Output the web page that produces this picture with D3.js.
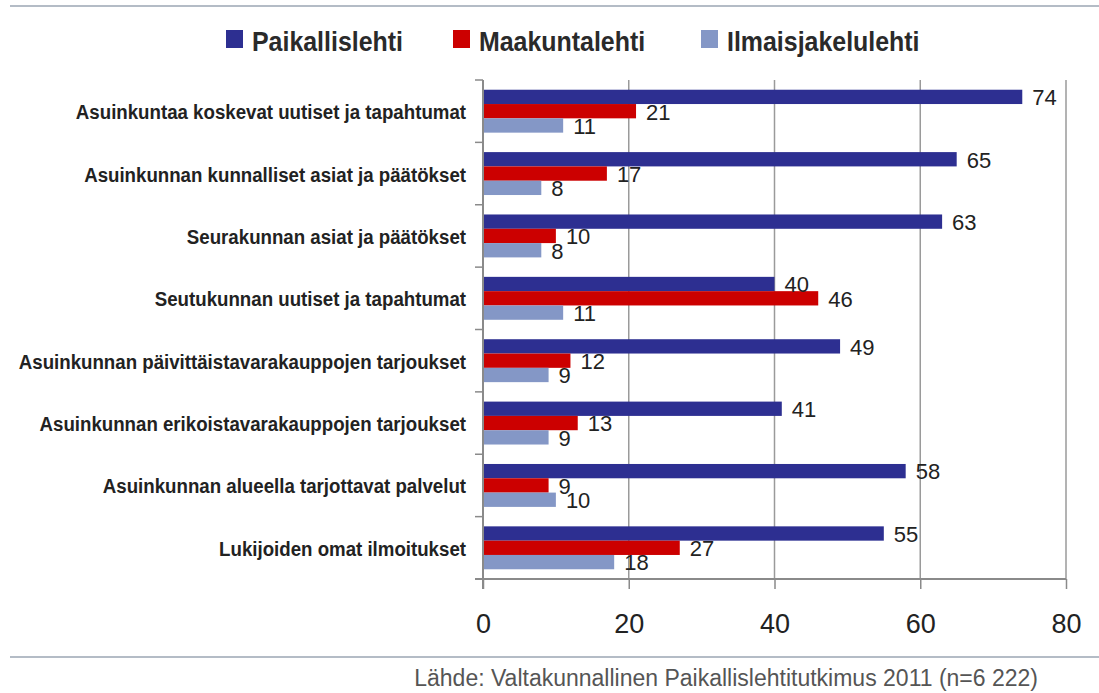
<!DOCTYPE html>
<html>
<head>
<meta charset="utf-8">
<script src="https://cdn.jsdelivr.net/npm/d3@7"></script>
<style>
	body { margin: 0; background: #fff; }
	svg { display: block; font-family: "Liberation Sans", Arial, sans-serif; }
</style>
</head>
<body>
<script>
// data
var categories = [
	"Asuinkuntaa koskevat uutiset ja tapahtumat",
	"Asuinkunnan kunnalliset asiat ja päätökset",
	"Seurakunnan asiat ja päätökset",
	"Seutukunnan uutiset ja tapahtumat",
	"Asuinkunnan päivittäistavarakauppojen tarjoukset",
	"Asuinkunnan erikoistavarakauppojen tarjoukset",
	"Asuinkunnan alueella tarjottavat palvelut",
	"Lukijoiden omat ilmoitukset"
];
var seriesNames = ["Paikallislehti", "Maakuntalehti", "Ilmaisjakelulehti"];
var paikallislehti = [74, 65, 63, 40, 49, 41, 58, 55];
var maakuntalehti = [21, 17, 10, 46, 12, 13, 9, 27];
var ilmaisjakelulehti = [11, 8, 8, 11, 9, 9, 10, 18];
var xTicks = [0, 20, 40, 60, 80];
var sourceText = "Lähde: Valtakunnallinen Paikallislehtitutkimus 2011 (n=6 222)";

var colors = ["#2d2f91", "#cc0000", "#8497c6"];

function draw() {
	var width = 1099, height = 693;
	var svg = d3.select("body").append("svg")
		.attr("width", width).attr("height", height);

	var seriesValues = [paikallislehti, maakuntalehti, ilmaisjakelulehti];
	var rows = categories.map((c, i) => ({
		name: c,
		values: seriesNames.map((s, j) => ({ series: s, value: seriesValues[j][i] }))
	}));

	var x = d3.scaleLinear().domain([0, 80]).range([483, 1066]);
	var y = d3.scaleBand().domain(categories).range([80, 579]);
	var y1 = d3.scaleBand().domain(seriesNames).range([0, y.bandwidth()])
		.paddingInner(0).paddingOuter(0.68);
	var color = d3.scaleOrdinal().domain(seriesNames).range(colors);

	// frame lines top and bottom
	svg.append("line").attr("x1", 10).attr("x2", width)
		.attr("y1", 6).attr("y2", 6)
		.attr("stroke", "#b4bcc6").attr("stroke-width", 2);
	svg.append("line").attr("x1", 10).attr("x2", width)
		.attr("y1", 657).attr("y2", 657)
		.attr("stroke", "#b4bcc6").attr("stroke-width", 2);

	// legend
	var legendX = [226, 453, 701];
	var legend = svg.append("g").selectAll("g")
		.data(seriesNames).enter().append("g")
		.attr("transform", (d, i) => "translate(" + legendX[i] + ",0)");
	legend.append("rect")
		.attr("x", 0).attr("y", 30).attr("width", 17).attr("height", 18)
		.attr("fill", d => color(d));
	legend.append("g")
		.attr("transform", "translate(26,51) scale(0.89,1)")
		.append("text")
		.attr("font-size", 28).attr("font-weight", "bold")
		.attr("fill", "#2a2a2a")
		.text(d => d);

	// gridlines
	svg.append("g").selectAll("line")
		.data(xTicks.slice(1)).enter().append("line")
		.attr("x1", d => x(d)).attr("x2", d => x(d))
		.attr("y1", 80).attr("y2", 579)
		.attr("stroke", "#9a9a9a").attr("stroke-width", 1.5);

	// bars
	var groups = svg.append("g").selectAll("g.row")
		.data(rows).enter().append("g").attr("class", "row")
		.attr("transform", d => "translate(0," + y(d.name) + ")");
	groups.selectAll("rect")
		.data(d => d.values).enter().append("rect")
		.attr("x", x(0))
		.attr("y", d => y1(d.series))
		.attr("width", d => x(d.value) - x(0))
		.attr("height", y1.bandwidth())
		.attr("fill", d => color(d.series));
	groups.selectAll("text.val")
		.data(d => d.values).enter().append("text").attr("class", "val")
		.attr("x", d => x(d.value) + 10)
		.attr("y", d => y1(d.series) + y1.bandwidth() / 2)
		.attr("dy", "0.38em")
		.attr("font-size", 22).attr("fill", "#222")
		.text(d => d.value);

	// x axis
	var xAxis = d3.axisBottom(x).tickValues(xTicks)
		.tickSize(10).tickSizeOuter(0).tickPadding(25);
	var gx = svg.append("g").attr("transform", "translate(0,579)").call(xAxis);
	gx.select(".domain").remove();
	gx.selectAll(".tick line").attr("stroke", "#8a8a8a").attr("stroke-width", 1.5);
	gx.selectAll(".tick text").attr("font-size", 27).attr("fill", "#222")
		.attr("font-family", "Liberation Sans, Arial, sans-serif");
	svg.append("line").attr("x1", 475).attr("x2", x(80))
		.attr("y1", 579).attr("y2", 579)
		.attr("stroke", "#8a8a8a").attr("stroke-width", 2);

	// y axis
	svg.append("line").attr("x1", x(0)).attr("x2", x(0))
		.attr("y1", 80).attr("y2", 589)
		.attr("stroke", "#8a8a8a").attr("stroke-width", 2);
	svg.append("g").selectAll("line")
		.data(categories).enter().append("line")
		.attr("x1", 475).attr("x2", x(0))
		.attr("y1", d => y(d)).attr("y2", d => y(d))
		.attr("stroke", "#8a8a8a").attr("stroke-width", 1.5);
	svg.append("g").selectAll("g")
		.data(categories).enter().append("g")
		.attr("transform", d => "translate(466," + (y(d) + y.bandwidth() / 2 + 8) + ") scale(0.89,1)")
		.append("text")
		.attr("text-anchor", "end")
		.attr("font-size", 21).attr("font-weight", "bold")
		.attr("fill", "#222")
		.text(d => d);

	// source
	svg.append("text")
		.attr("x", 1038).attr("y", 686)
		.attr("text-anchor", "end")
		.attr("font-size", 23).attr("fill", "#555")
		.text(sourceText);
}

window.addEventListener("DOMContentLoaded", draw);
</script>
</body>
</html>
